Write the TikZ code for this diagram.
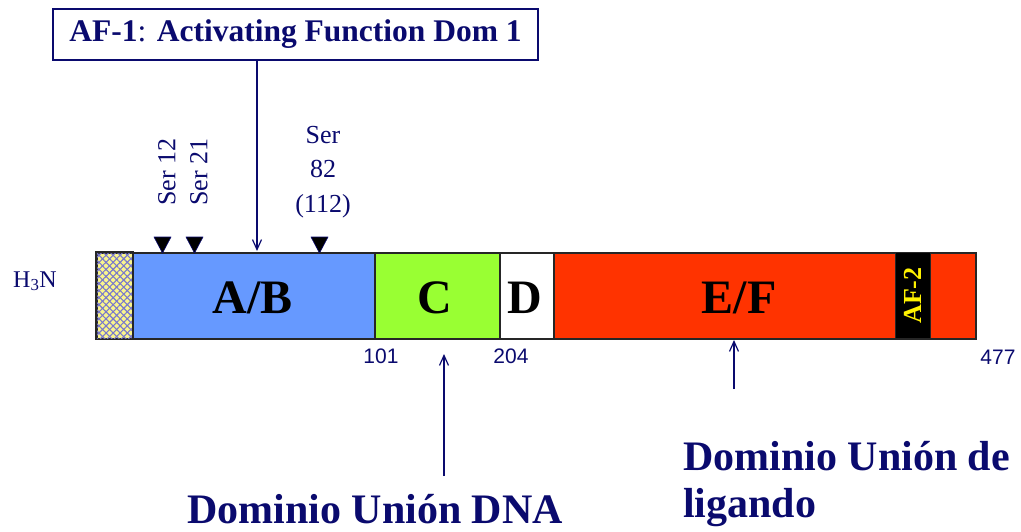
\documentclass[tikz,border=0pt]{standalone}
\usepackage{fontspec}
\setmainfont{Liberation Serif}
\newfontfamily\arialf{Liberation Sans}
\usetikzlibrary{arrows.meta,patterns.meta}
\definecolor{navy}{RGB}{10,10,110}
\definecolor{domblue}{RGB}{102,153,255}
\definecolor{domgreen}{RGB}{153,255,51}
\definecolor{domred}{RGB}{255,51,0}
\definecolor{hatchyellow}{RGB}{250,245,140}
\definecolor{hatchblue}{RGB}{120,120,205}
\tikzset{
  dom/.style={draw=black!85, line width=1.5pt, inner sep=0pt, anchor=north west,
    minimum height=86pt, text=black},
  domlab/.style={font=\fontsize{48}{48}\selectfont\bfseries, inner sep=0pt, anchor=base},
  num/.style={text=navy, font=\arialf\fontsize{21}{21}\selectfont, inner sep=0pt},
  serlab/.style={text=navy, font=\fontsize{26}{26}\selectfont, inner sep=0pt},
  bigl/.style={text=navy, font=\fontsize{42}{42}\selectfont\bfseries, inner sep=0pt, anchor=base west},
  arr/.style={draw=navy, line width=1.4pt, -{Straight Barb[length=10pt,width=9pt,line width=1.2pt]}},
  tri/.style={fill=black, draw=navy, line width=0.6pt, line join=round}
}
\begin{document}
\begin{tikzpicture}[x=1pt,y=-1pt]
\useasboundingbox (0,0) rectangle (1021,531);
% domains
\node[dom, fill=hatchyellow, minimum width=36pt] (nt) at (96,252) {};
\fill[pattern={Lines[angle=45,distance=5pt,line width=1.1pt]}, pattern color=hatchblue] (nt.north west) rectangle (nt.south east);
\fill[pattern={Lines[angle=-45,distance=5pt,line width=1.1pt]}, pattern color=hatchblue] (nt.north west) rectangle (nt.south east);
\draw[black!85, line width=1.5pt] (nt.north west) rectangle (nt.south east);
\node[dom, fill=domblue, minimum width=242pt] (ab) at (132,252) {};
\node[dom, fill=domgreen, minimum width=125pt] (c) at (374,252) {};
\node[dom, fill=white, minimum width=54pt] (d) at (499,252) {};
\node[dom, fill=domred, minimum width=422pt] (ef) at (553,252) {};
\node[draw=black!85, line width=1pt, fill=black, inner sep=0pt, anchor=north west, minimum width=35pt, minimum height=86pt] (af2) at (895,252) {};
\node[rotate=90, text=yellow, font=\fontsize{26}{26}\selectfont\bfseries, inner sep=0pt] (af2l) at (af2.center) {AF-2};
% domain labels
\node[domlab] (abl) at (253,313) {A/B};
\node[domlab] (cl) at (435,313) {C};
\node[domlab] (dl) at (525,313) {D};
\node[domlab] (efl) at (739,313) {E/F};
% H3N
\node[text=navy, font=\fontsize{24}{24}\selectfont, inner sep=0pt, anchor=base west] (h3n) at (13,287) {H\textsubscript{3}N};
% numbers
\node[num] (n101) at (381,356) {101};
\node[num] (n204) at (511,356) {204};
\node[num] (n477) at (998,357) {477};
% phosphorylation sites
\fill[tri] (154,237) -- (171,237) -- (162.5,253) -- cycle;
\fill[tri] (186,237) -- (203,237) -- (194.5,253) -- cycle;
\fill[tri] (311,237) -- (328,237) -- (319.5,253) -- cycle;
\node[serlab, rotate=90] (s12) at (167,172) {Ser 12};
\node[serlab, rotate=90] (s21) at (199,172) {Ser 21};
\node[serlab] (s82a) at (323,135) {Ser};
\node[serlab] (s82b) at (323,169) {82};
\node[serlab] (s82c) at (323,206) {(112)};
% AF-1 box
\node[draw=navy, line width=1.2pt, text=navy, inner sep=0pt, minimum width=485pt, minimum height=51pt,
  font=\fontsize{31.5}{31.5}\selectfont\bfseries] (af1) at (295.5,34.5) {AF-1\textmd{:} Activating Function Dom 1};
\coordinate (af1tip) at (257,251);
\draw[arr] (af1tip |- af1.south) -- (af1tip);
% bottom arrows
\coordinate (cTip) at (444,354);
\coordinate (cTail) at (444,476);
\draw[arr, line width=2.2pt] (cTail) -- (cTip);
\coordinate (efTip) at (734,340);
\coordinate (efTail) at (734,389);
\draw[arr] (efTail) -- (efTip);
% big labels
\node[bigl] (dna) at (187,523) {Dominio Unión DNA};
\node[bigl] (lig1) at (683,470) {Dominio Unión de};
\node[bigl] (lig2) at (683,517) {ligando};
\end{tikzpicture}
\end{document}
